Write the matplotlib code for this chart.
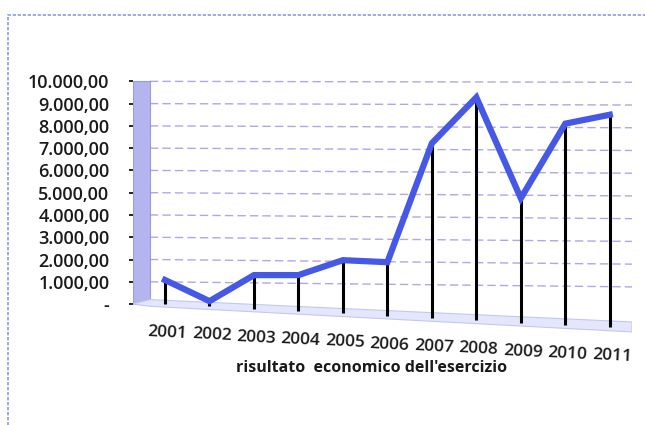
import matplotlib.pyplot as plt
from matplotlib.patches import Rectangle, Polygon

# dati
anni = ['2001', '2002', '2003', '2004', '2005', '2006',
        '2007', '2008', '2009', '2010', '2011']
risultato = [1080, 130, 1300, 1300, 1970, 1880,
             7220, 9280, 4750, 8100, 8500]
tacche = list(range(0, 10001, 1000))

plt.rcParams['font.family'] = ['Open Sans', 'DejaVu Sans']

fig = plt.figure(figsize=(6.45, 4.25), dpi=100)
W, H = 645, 425

# riquadro esterno del grafico
fig.patches.append(Rectangle((8 / W, -0.1), 1.0, (H - 15) / H + 0.1,
                             transform=fig.transFigure, fill=False,
                             edgecolor='#8f9be0', lw=1.2, ls=(0, (2, 1))))

# area del grafico: x da 133 a 632 px, y da 78 a 333 px
ax = fig.add_axes([133 / W, (H - 333) / H, (632 - 133) / W, (333 - 78) / H])
x = list(range(len(anni)))
ax.set_xlim(-0.72, 10.5)
ax.set_ylim(-1300, 10150)

# inclinazione del pavimento (effetto 3D)
incl = 105
base = [-incl * i for i in x]

# parete sinistra
ax.add_patch(Rectangle((-0.72, 0), 0.38, 10000, facecolor='#b4b4ef',
                       edgecolor='#9a9ae6', lw=0.8, zorder=1))

# pavimento
ax.add_patch(Polygon([(-0.72, 0), (-0.34, 200), (10.5, -incl * 10.5 + 300),
                      (10.5, -incl * 10.5 - 150), (-0.34, -100)],
                     closed=True, facecolor='#e4e7fb', edgecolor='#c3c8f2',
                     lw=0.8, zorder=1))

# griglia
for v in tacche[1:]:
    ax.plot([-0.34, 10.5], [v, v - 250 * (1 - v / 12000)],
            color='#a08fe0', lw=1.0, ls=(0, (6, 3)), alpha=0.8, zorder=2)

# linee verticali
ax.vlines(x, base, risultato, color='black', lw=2.2, zorder=3)

# serie
ax.plot(x, risultato, color='#4658e6', lw=4.5, solid_joinstyle='miter',
        zorder=4)

# assi
for s in ax.spines.values():
    s.set_visible(False)
ax.set_xticks([])
ax.set_yticks(tacche)
ax.set_yticklabels(['-'] + ['{:,.2f}'.format(v).replace(',', 'X')
                            .replace('.', ',').replace('X', '.')
                            for v in tacche[1:]])
ax.tick_params(axis='y', length=3, width=1.2, pad=14, labelsize=13,
               labelcolor='#1a1a1a')
for t in ax.get_yticklabels():
    t.set_fontweight('semibold')

# etichette degli anni, inclinate come il pavimento
for i, a in zip(x, anni):
    ax.text(i + 0.05, base[i] - 1300, a, ha='center', va='center',
            rotation=-3, fontsize=12.5, fontweight='semibold',
            color='#1a1a1a', clip_on=False)

fig.text(372 / W, 1 - 368 / H, "risultato  economico dell'esercizio",
         ha='center', va='center', fontsize=11.5, fontweight='bold',
         color='#1a1a1a')

fig.savefig('out.png', dpi=100)
